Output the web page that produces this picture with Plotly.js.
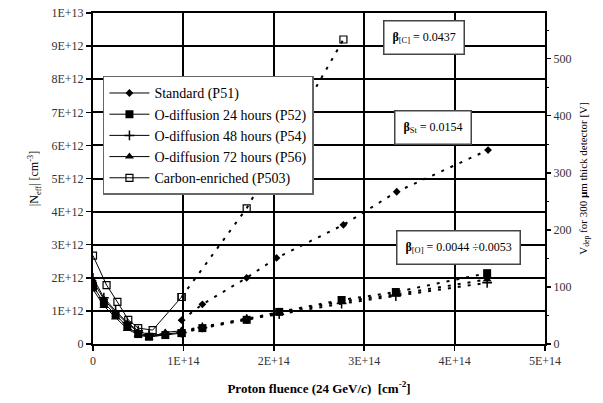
<!DOCTYPE html>
<html>
<head>
<meta charset="utf-8">
<script src="https://cdn.plot.ly/plotly-3.0.1.min.js"></script>
<style>html,body{margin:0;padding:0;background:#fff;}#chart{width:603px;height:403px;}</style>
</head>
<body>
<div id="chart"></div>
<script>
// ---- data (fluence in cm^-2, |Neff| in cm^-3) ----
const seriesNames = ["Standard (P51)", "O-diffusion 24 hours (P52)", "O-diffusion 48 hours (P54)", "O-diffusion 72 hours (P56)", "Carbon-enriched (P503)"];

const lowFluence = [0, 1.2e13, 2.5e13, 3.8e13, 5.0e13, 6.2e13, 8.0e13, 9.8e13];
const highFluence = [9.8e13, 1.21e14, 1.7e14, 2.06e14, 2.75e14, 3.35e14, 4.36e14];

const p51Low = [1.9e12, 1.35e12, 0.95e12, 0.62e12, 0.36e12, 0.22e12, 0.28e12];
const p51HighF = [9.8e13, 1.21e14, 1.7e14, 2.03e14, 2.77e14, 3.36e14, 4.37e14];
const p51High = [0.72e12, 1.2e12, 2.0e12, 2.6e12, 3.6e12, 4.6e12, 5.86e12];

const p52Low = [1.75e12, 1.25e12, 0.88e12, 0.52e12, 0.30e12, 0.22e12, 0.27e12, 0.33e12];
const p52High = [0.33e12, 0.48e12, 0.73e12, 0.97e12, 1.33e12, 1.57e12, 2.14e12];

const p54Low = [2.0e12, 1.4e12, 1.0e12, 0.65e12, 0.40e12, 0.27e12, 0.30e12, 0.35e12];
const p54High = [0.35e12, 0.50e12, 0.75e12, 0.90e12, 1.22e12, 1.45e12, 1.85e12];

const p56Low = [1.65e12, 1.15e12, 0.80e12, 0.45e12, 0.28e12, 0.20e12, 0.35e12, 0.40e12];
const p56High = [0.40e12, 0.52e12, 0.78e12, 0.95e12, 1.28e12, 1.50e12, 1.95e12];

const p503LowF = [0, 1.5e13, 2.7e13, 3.9e13, 5.0e13, 6.6e13, 9.8e13];
const p503Low = [2.67e12, 1.78e12, 1.27e12, 0.73e12, 0.48e12, 0.42e12, 1.42e12];
const p503HighF = [9.8e13, 1.7e14, 2.77e14];
const p503High = [1.42e12, 4.1e12, 9.2e12];

const xTickVals = [0, 1e14, 2e14, 3e14, 4e14, 5e14];
const xTickText = ["0", "1E+14", "2E+14", "3E+14", "4E+14", "5E+14"];
const yTickVals = [0, 1e12, 2e12, 3e12, 4e12, 5e12, 6e12, 7e12, 8e12, 9e12, 1e13];
const yTickText = ["0", "1E+12", "2E+12", "3E+12", "4E+12", "5E+12", "6E+12", "7E+12", "8E+12", "9E+12", "1E+13"];
const y2TickVals = [0, 100, 200, 300, 400, 500];
const y2TickText = ["0", "100", "200", "300", "400", "500"];

const betaLabels = ["<b>β</b><sub>[C]</sub> = 0.0437", "<b>β</b><sub>St</sub> = 0.0154", "<b>β</b><sub>[O]</sub> = 0.0044 ÷0.0053"];

// ---- styles ----
const markerStyles = [
  {symbol: "diamond", size: 6, color: "#000"},
  {symbol: "square", size: 8, color: "#000"},
  {symbol: "cross-thin", size: 7, color: "#000", line: {color: "#000", width: 1.5}},
  {symbol: "triangle-up", size: 8, color: "#000"},
  {symbol: "square-open", size: 7, color: "#000", line: {color: "#000", width: 1.2}}
];
const lowData = [
  [lowFluence.slice(0, p51Low.length), p51Low],
  [lowFluence, p52Low],
  [lowFluence, p54Low],
  [lowFluence, p56Low],
  [p503LowF, p503Low]
];
const highData = [
  [p51HighF, p51High],
  [highFluence, p52High],
  [highFluence, p54High],
  [highFluence, p56High],
  [p503HighF, p503High]
];

const traces = [];
seriesNames.forEach((name, i) => {
  traces.push({
    x: lowData[i][0], y: lowData[i][1], name: name, type: "scatter", mode: "lines+markers",
    line: {color: "#000", width: 1}, marker: markerStyles[i], legendgroup: "g" + i, showlegend: true
  });
});
seriesNames.forEach((name, i) => {
  traces.push({
    x: highData[i][0], y: highData[i][1], name: name, type: "scatter", mode: "lines+markers",
    line: {color: "#000", width: 2, dash: "3px,7px"}, marker: markerStyles[i], legendgroup: "g" + i, showlegend: false
  });
});
// invisible trace to activate right axis
traces.push({x: [0], y: [0], yaxis: "y2", mode: "markers", marker: {opacity: 0}, showlegend: false, hoverinfo: "skip"});

const FAM = "Liberation Serif";
const boxAnn = (text, x, y) => ({
  text: text, xref: "paper", yref: "paper", x: x, y: y, xanchor: "center", yanchor: "middle", showarrow: false,
  bgcolor: "#fff", bordercolor: "#444", borderwidth: 1.5, borderpad: 8,
  font: {family: FAM, color: "#000", size: 12}
});

const layout = {
  width: 603, height: 403,
  margin: {l: 93, r: 58, t: 13, b: 59},
  paper_bgcolor: "#fff", plot_bgcolor: "#fff",
  font: {family: FAM, color: "#000", size: 12},
  showlegend: true,
  legend: {
    x: 0.022, y: 0.81, xanchor: "left", yanchor: "top",
    bgcolor: "#fff", bordercolor: "#666", borderwidth: 1.5,
    font: {family: FAM, color: "#000", size: 14}, tracegroupgap: 0, itemwidth: 40
  },
  xaxis: {
    range: [0, 5e14], tickvals: xTickVals, ticktext: xTickText,
    showgrid: true, gridcolor: "#000", gridwidth: 2,
    showline: true, linecolor: "#000", linewidth: 2, mirror: true,
    ticks: "outside", ticklen: 5, tickcolor: "#000", tickwidth: 1.5, zeroline: false,
    tickfont: {family: FAM, size: 12, color: "#333"},
    title: {text: "<b>Proton fluence (24 GeV/<i>c</i>)  [cm<sup>-2</sup>]</b>", font: {family: FAM, color: "#000", size: 13}, standoff: 16}
  },
  yaxis: {
    range: [0, 1e13], tickvals: yTickVals, ticktext: yTickText,
    showgrid: true, gridcolor: "#000", gridwidth: 2,
    showline: true, linecolor: "#000", linewidth: 2, mirror: true,
    ticks: "outside", ticklen: 5, tickcolor: "#000", tickwidth: 1.5, zeroline: false,
    tickfont: {family: FAM, size: 12, color: "#333"},
    title: {text: "|N<sub>eff</sub>| [cm<sup>-3</sup>]", font: {family: FAM, color: "#000", size: 12}, standoff: 10}
  },
  yaxis2: {
    overlaying: "y", side: "right", range: [0, 580],
    tickvals: y2TickVals, ticktext: y2TickText,
    showgrid: false, zeroline: false, showline: false,
    ticks: "outside", ticklen: 5, tickcolor: "#000", tickwidth: 1.5,
    minor: {dtick: 50, ticks: "outside", ticklen: 3, tickcolor: "#000", tickwidth: 1},
    tickfont: {family: FAM, size: 12, color: "#333"},
    title: {text: "V<sub>dep</sub> for 300 <b>µ</b>m thick detector [V]", font: {family: FAM, color: "#000", size: 11}, standoff: 8}
  },
  annotations: [
    boxAnn(betaLabels[0], 0.733, 0.925),
    boxAnn(betaLabels[1], 0.752, 0.653),
    boxAnn(betaLabels[2], 0.808, 0.293)
  ]
};

Plotly.newPlot("chart", traces, layout, {displayModeBar: false, staticPlot: true});
</script>
</body>
</html>
